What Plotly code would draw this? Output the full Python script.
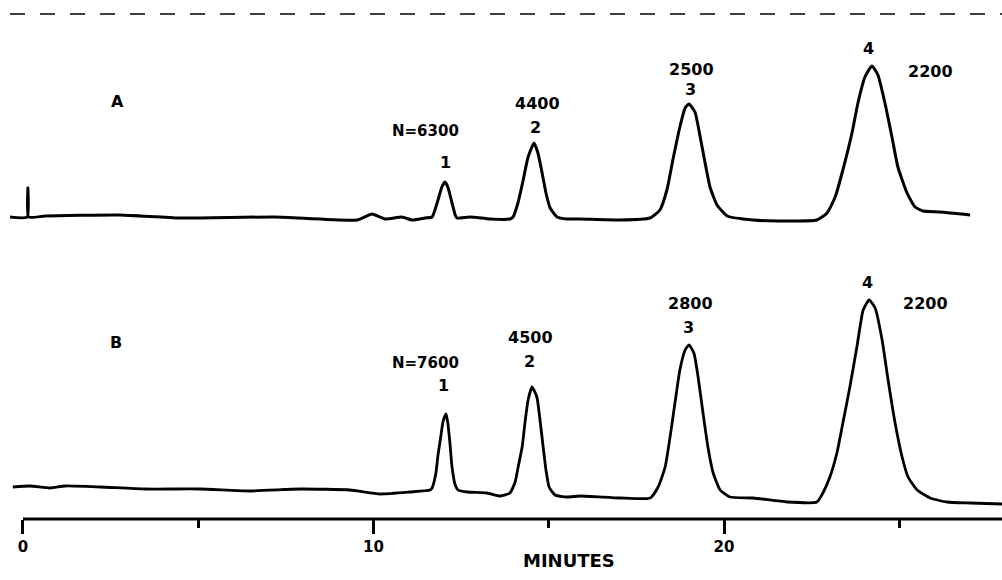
import plotly.graph_objects as go

# ---- Chromatogram A (retention time in minutes, detector signal in arbitrary units) ----
time_a = [-0.37, 0.12, 0.14, 0.16, 0.63, 2.77, 4.48, 7.19, 9.53, 9.96, 10.33, 10.81, 11.10, 11.47,
          11.67, 11.84, 11.95, 12.04, 12.12, 12.24, 12.33, 12.38, 12.75, 13.32, 13.89,
          13.98, 14.12, 14.27, 14.41, 14.58, 14.69, 14.81, 14.92, 15.04, 15.24, 15.52, 15.89,
          17.03, 17.89, 18.17, 18.37, 18.54, 18.74, 18.89, 19.00, 19.17, 19.32, 19.46, 19.60,
          19.80, 20.09, 20.83, 21.80, 22.65, 22.94, 23.17, 23.39, 23.65, 23.82, 24.02, 24.22,
          24.39, 24.59, 24.79, 24.96, 25.22, 25.45, 25.68, 26.16, 27.02]
signal_a = [1, 1, 30, 1, 2, 3, 0, 1, -2, 4, -1, 1, -2, 0,
            1, 18, 31, 36, 31, 15, 3, 0, 1, -1, -1,
            1, 15, 38, 61, 75, 65, 45, 25, 10, 1, -1, -1,
            -2, 0, 8, 28, 58, 91, 110, 114, 106, 81, 55, 31,
            13, 2, -2, -3, -2, 5, 21, 48, 85, 115, 141, 152,
            143, 115, 81, 51, 25, 11, 7, 6, 3]

# ---- Chromatogram B ----
time_b = [-0.29, 0.20, 0.77, 1.20, 2.20, 3.48, 5.05, 6.48, 7.90, 9.33, 10.19, 11.04, 11.61,
          11.67, 11.78, 11.84, 11.93, 11.98, 12.07, 12.12, 12.18, 12.24, 12.33, 12.41, 12.67,
          13.24, 13.61, 13.89, 14.04, 14.12, 14.24, 14.32, 14.41, 14.52, 14.66, 14.75, 14.84,
          14.92, 15.01, 15.18, 15.52, 15.89, 17.03, 17.89, 18.12, 18.32, 18.46, 18.60, 18.74,
          18.89, 19.00, 19.14, 19.26, 19.40, 19.54, 19.69, 19.89, 20.17, 20.83, 21.80, 22.65,
          22.82, 23.02, 23.22, 23.39, 23.59, 23.79, 23.97, 24.14, 24.31, 24.51, 24.68, 24.88,
          25.08, 25.25, 25.51, 25.88, 26.36, 27.02, 27.93]
signal_b = [9, 10, 8, 10, 9, 7, 7, 5, 7, 6, 2, 4, 6,
            8, 23, 41, 62, 74, 82, 73, 53, 29, 11, 6, 4,
            3, 0, 3, 14, 28, 49, 73, 96, 109, 99, 76, 49,
            26, 9, 1, -1, 0, -2, -2, 9, 29, 59, 93, 126,
            146, 151, 143, 119, 83, 49, 23, 6, -1, -2, -6, -6,
            3, 19, 43, 73, 109, 149, 186, 196, 188, 156, 116, 73,
            39, 19, 6, -2, -6, -7, -8]

# ---- Text labels ----
panel_labels = ["A", "B"]
plates_a = ["N=6300", "4400", "2500", "2200"]
plates_b = ["N=7600", "4500", "2800", "2200"]
peak_numbers = ["1", "2", "3", "4"]
tick_vals = [0, 10, 20]
tick_text = ["0", "10", "20"]
minor_tick_vals = [5, 15, 25]
x_title = "MINUTES"

FONT = "DejaVu Sans"

fig = go.Figure()
fig.add_trace(go.Scatter(x=time_a, y=signal_a, mode="lines", yaxis="y",
                         line=dict(color="black", width=3, shape="spline", smoothing=0.5),
                         hoverinfo="skip"))
fig.add_trace(go.Scatter(x=time_b, y=signal_b, mode="lines", yaxis="y2",
                         line=dict(color="black", width=2.8, shape="spline", smoothing=0.5),
                         hoverinfo="skip"))

ann = []
def label(text, x, y, yref, size=16):
    ann.append(dict(text=text, x=x, y=y, xref="x", yref=yref, showarrow=False,
                    xanchor="center", yanchor="middle",
                    font=dict(family=FONT, size=size, color="black", weight="bold")))

label(panel_labels[0], 2.71, 117, "y", 16)
label(panel_labels[1], 2.65, 154, "y2", 16)

pos_a_num = [(12.04, 56), (14.61, 91), (19.03, 129), (24.11, 170)]
pos_a_pl = [(11.47, 87), (14.69, 115), (19.06, 149), (25.88, 147)]
pos_b_num = [(12.01, 111), (14.44, 135), (19.00, 169), (24.08, 214)]
pos_b_pl = [(11.47, 133), (14.47, 159), (19.03, 193), (25.76, 193)]
for i in range(4):
    label(peak_numbers[i], *pos_a_num[i], "y")
    label(plates_a[i], *pos_a_pl[i], "y", 15 if i == 0 else 16)
    label(peak_numbers[i], *pos_b_num[i], "y2")
    label(plates_b[i], *pos_b_pl[i], "y2", 15 if i == 0 else 16)

ann.append(dict(text=x_title, x=15.58, y=0, xref="x", yref="paper", yanchor="middle",
                yshift=-41, showarrow=False,
                font=dict(family=FONT, size=18, color="black", weight="bold")))

fig.update_layout(
    width=1002, height=580,
    margin=dict(l=0, r=0, t=0, b=61),
    paper_bgcolor="white", plot_bgcolor="white",
    showlegend=False,
    annotations=ann,
    xaxis=dict(range=[-0.656, 27.93], showgrid=False, zeroline=False, showline=False,
               tickvals=tick_vals, ticktext=tick_text, ticks="outside", ticklen=14,
               tickwidth=3, tickcolor="black",
               tickfont=dict(family=FONT, size=15, color="black", weight="bold"),
               minor=dict(tickvals=minor_tick_vals, ticks="outside", ticklen=8,
                          tickwidth=2.5, tickcolor="black", showgrid=False)),
    yaxis=dict(range=[-301, 218], visible=False, fixedrange=True),
    yaxis2=dict(range=[-23, 496], visible=False, overlaying="y", fixedrange=True),
    shapes=[
        dict(type="line", xref="x", yref="paper", x0=0, x1=27.93, y0=0, y1=0,
             line=dict(color="black", width=3)),
        dict(type="line", xref="paper", yref="paper", x0=0.01, x1=1, y0=0.973, y1=0.973,
             line=dict(color="black", width=1.5, dash="longdash")),
    ],
)

fig.write_html("out.html")
